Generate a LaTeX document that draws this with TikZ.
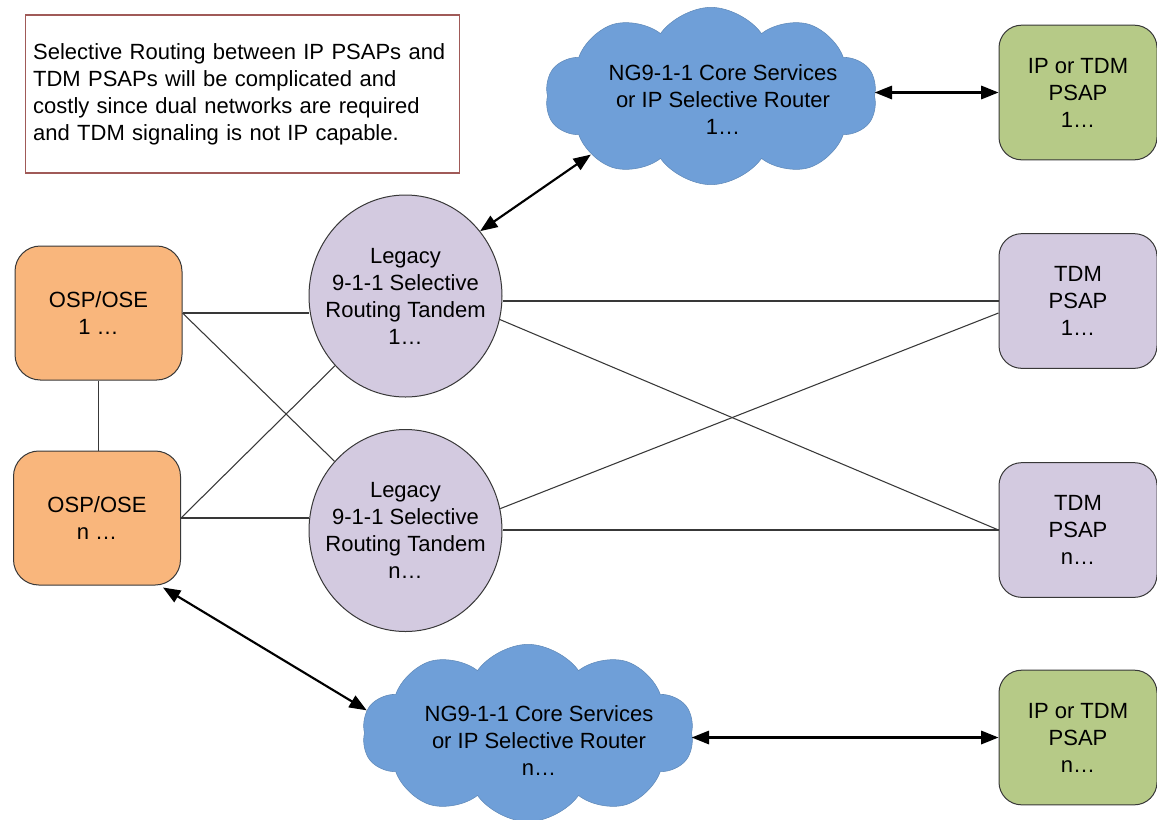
\documentclass[tikz,border=0pt]{standalone}
\usepackage{fontspec}
\setmainfont{Liberation Sans}
\usetikzlibrary{shapes.geometric,shapes.symbols,arrows.meta}
\definecolor{ospfill}{HTML}{F9B67C}
\definecolor{lilac}{HTML}{D3CAE0}
\definecolor{psapgreen}{HTML}{B6CA87}
\definecolor{cloudblue}{HTML}{6F9FD8}
\definecolor{cloudline}{HTML}{5F89B8}
\definecolor{noteline}{HTML}{A05A58}
\definecolor{edge}{HTML}{383838}
\begin{document}
\begin{tikzpicture}[x=0.75pt, y=-0.75pt,
  every node/.style={font=\fontsize{16.5}{20.25}\selectfont, align=center},
  ospbox/.style={draw=edge, line width=0.75pt, fill=ospfill, rounded corners=19pt, minimum width=125.25pt, minimum height=100.5pt},
  psapbox/.style={draw=edge, line width=0.75pt, rounded corners=17pt, minimum width=118.5pt, minimum height=101pt},
  tandem/.style={ellipse, draw=edge, line width=0.75pt, fill=lilac, minimum width=144.75pt, minimum height=151.5pt, inner sep=0pt},
  ngcloud/.style={cloud, cloud puffs=10, cloud puff arc=110, aspect=1.9, draw=cloudline, fill=cloudblue, minimum width=249pt, minimum height=133pt, inner sep=0pt},
  link/.style={draw=edge, line width=0.8pt},
  biarrow/.style={{Triangle[length=13pt,width=10pt]}-{Triangle[length=13pt,width=10pt]}, line width=1.6pt}
]
\useasboundingbox (0,0) rectangle (1157,819);

% note
\node[draw=noteline, line width=0.8pt, text width=314pt, align=left, inner xsep=6pt, minimum height=118.5pt] (note) at (242.5,94)
  {Selective Routing between IP PSAPs and\\TDM PSAPs will be complicated and\\costly since dual networks are required\\and TDM signaling is not IP capable.};

\node[ospbox] (osp1) at (98.5,313) {OSP/OSE\\1 …};
\node[ospbox] (ospn) at (97,518) {OSP/OSE\\n …};

\node[tandem] (leg1) at (405.5,296) {};
\node (leg1txt) at (leg1) {Legacy\\9-1-1 Selective\\Routing Tandem\\1…};
\node[tandem] (legn) at (405.5,530.5) {};
\node (legntxt) at (legn) {Legacy\\9-1-1 Selective\\Routing Tandem\\n…};

\node[psapbox, fill=psapgreen] (ip1) at (1078,92.5) {IP or TDM\\PSAP\\1…};
\node[psapbox, fill=lilac] (tdm1) at (1078,301) {TDM\\PSAP\\1…};
\node[psapbox, fill=lilac] (tdmn) at (1078,530) {TDM\\PSAP\\n…};
\node[psapbox, fill=psapgreen] (ipn) at (1078,737.5) {IP or TDM\\PSAP\\n…};

\node[ngcloud] (cloud1) at (711,96) {};
\node (cloud1txt) at (723,100) {NG9-1-1 Core Services\\or IP Selective Router\\1…};
\node[ngcloud] (cloudn) at (528,733) {};
\node (cloudntxt) at (539,741) {NG9-1-1 Core Services\\or IP Selective Router\\n…};

\draw[link] (osp1.south) -- (osp1.south |- ospn.north);
\draw[link] (osp1.east) -- (osp1.east -| leg1.west);
\draw[link] (osp1.east) -- (legn);
\draw[link] (ospn.east) -- (leg1);
\draw[link] (ospn.east) -- (ospn.east -| legn.west);
\draw[link] (tdm1.west) -- (tdm1.west -| leg1.east);
\draw[link] (leg1.-14) -- (tdmn.west);
\draw[link] (legn.13) -- ([yshift=-9pt]tdm1.west);
\draw[link] (tdmn.west) -- (tdmn.west -| legn.east);

\draw[biarrow] (leg1.41) -- (cloud1.206);
\draw[biarrow] (ip1.west) -- (ip1.west -| cloud1.east);
\draw[biarrow] ([xshift=-13.5pt,yshift=-1.5pt]ospn.south east) -- (cloudn.172);
\draw[biarrow] (ipn.west) -- (ipn.west -| cloudn.east);
\end{tikzpicture}
\end{document}
